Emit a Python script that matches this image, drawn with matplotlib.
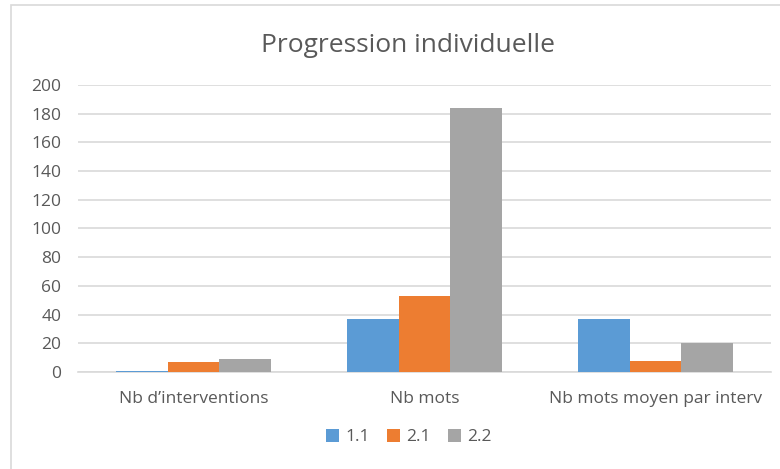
import numpy as np
import matplotlib.pyplot as plt
from matplotlib.patches import Rectangle

# data
categories = ["Nb d\u2019interventions", "Nb mots", "Nb mots moyen par interv"]
series = ["1.1", "2.1", "2.2"]
v11 = [1, 37, 37]
v21 = [7, 53, 7.6]
v22 = [9, 184, 20.4]
colors = ["#5B9BD5", "#ED7D31", "#A5A5A5"]

plt.rcParams['font.family'] = ['Open Sans', 'DejaVu Sans']
txt = "#595959"

fig = plt.figure(figsize=(7.8, 4.69), dpi=100)
W, H = 780, 469
# plot area in pixels: x 78..771, y 85 (200) .. 372 (0)
ax = fig.add_axes([78 / W, 1 - 372 / H, (771 - 78) / W, (372 - 85) / H])

x = np.arange(len(categories))
bw = 0.225
for k, (vals, name) in enumerate(zip([v11, v21, v22], series)):
    ax.bar(x + (k - 1) * bw, vals, width=bw, color=colors[k], label=name, zorder=3)

ax.set_xlim(-0.5, 2.5)
ax.set_ylim(0, 200)
ax.set_yticks(range(0, 201, 20))
ax.yaxis.grid(True, color="#D9D9D9", linewidth=1.2, zorder=0)
for s in ["top", "right", "left"]:
    ax.spines[s].set_visible(False)
ax.spines["bottom"].set_color("#D9D9D9")
ax.spines["bottom"].set_linewidth(1.2)
ax.tick_params(axis="both", length=0, colors=txt, labelsize=12.5)
ax.tick_params(axis="y", pad=12)
ax.tick_params(axis="x", pad=14)
ax.set_xticks(x)
ax.set_xticklabels(categories)

fig.text(408 / W, 1 - 45 / H, "Progression individuelle", ha="center", va="center",
         fontsize=19, color=txt)

leg = ax.legend(loc="center", bbox_to_anchor=(409 / W, 1 - 437 / H),
                bbox_transform=fig.transFigure, ncol=3, frameon=False,
                fontsize=12.5, handlelength=0.75, handleheight=0.75,
                handletextpad=0.35, columnspacing=1.0)
for t in leg.get_texts():
    t.set_color(txt)

# outer chart frame
fig.patches.append(Rectangle((11 / W, -0.1), 1.2, 1 - 5 / H + 0.1,
                             transform=fig.transFigure, fill=False,
                             edgecolor="#D9D9D9", linewidth=1.2))

fig.savefig("out.png", dpi=100)
